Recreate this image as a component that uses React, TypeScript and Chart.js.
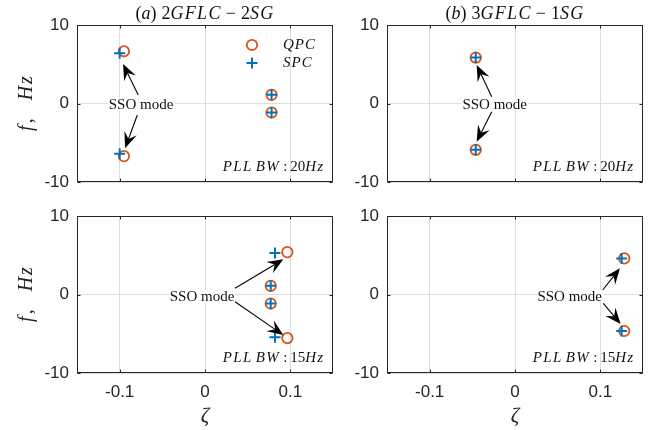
import React, { useEffect, useRef } from "react";
import { Chart, registerables } from "chart.js";

Chart.register(...registerables);

// ---------- data ----------
const X_TICKS = [-0.1, 0, 0.1];
const X_TICK_LABELS = ["-0.1", "0", "0.1"];
const Y_TICKS = [-10, 0, 10];
const Y_TICK_LABELS = ["-10", "0", "10"];
const X_MIN = -0.15;
const X_MAX = 0.15;
const Y_MIN = -10;
const Y_MAX = 10;

const SERIES_NAMES = ["QPC", "SPC"];

// (a) 2GFLC-2SG, PLL BW 20 Hz
const A_QPC_X = [-0.095, -0.095, 0.078, 0.078];
const A_QPC_Y = [6.65, -6.7, 1.1, -1.15];
const A_SPC_X = [-0.1, -0.1, 0.078, 0.078];
const A_SPC_Y = [6.4, -6.4, 1.1, -1.15];

// (b) 3GFLC-1SG, PLL BW 20 Hz
const B_QPC_X = [-0.046, -0.046];
const B_QPC_Y = [5.85, -5.9];
const B_SPC_X = [-0.046, -0.046];
const B_SPC_Y = [5.85, -5.9];

// (a) bottom, PLL BW 15 Hz
const C_QPC_X = [0.0965, 0.0965, 0.077, 0.077];
const C_QPC_Y = [5.4, -5.55, 1.1, -1.15];
const C_SPC_X = [0.082, 0.082, 0.077, 0.077];
const C_SPC_Y = [5.3, -5.45, 1.1, -1.15];

// (b) bottom, PLL BW 15 Hz
const D_QPC_X = [0.128, 0.128];
const D_QPC_Y = [4.6, -4.65];
const D_SPC_X = [0.125, 0.125];
const D_SPC_Y = [4.6, -4.65];

const PLL_BW = ["20", "20", "15", "15"];
const SSO_LABEL = "SSO mode";

// annotation anchors (data coordinates): text centre, arrows [tailX, tailY, tipX, tipY]
const A_SSO_TEXT = [-0.075, -0.1];
const A_SSO_ARROWS = [
  [-0.0782, 1.08, -0.0961, 5.03],
  [-0.0793, -1.46, -0.0937, -5.71],
];
const B_SSO_TEXT = [-0.0238, -0.1];
const B_SSO_ARROWS = [
  [-0.0273, 0.87, -0.0449, 4.9],
  [-0.0273, -1.04, -0.0449, -4.87],
];
const C_SSO_TEXT = [-0.0035, -0.2];
const C_SSO_ARROWS = [
  [0.0352, 0.79, 0.0918, 4.48],
  [0.0352, -0.92, 0.0918, -5.16],
];
const D_SSO_TEXT = [0.0641, -0.2];
const D_SSO_ARROWS = [
  [0.1028, 0.57, 0.123, 3.34],
  [0.1035, -1.12, 0.1238, -3.76],
];

// ---------- styles ----------
const W = 664;
const H = 430;
const ORANGE = "#D95319";
const BLUE = "#0072BD";
const AXIS = "#262626";
const GRID = "#dedede";
const SERIF = '"Liberation Serif", "Times New Roman", serif';
const SANS = '"Liberation Sans", Arial, sans-serif';
const YW = 40;
const XH = 30;

type Seg = { t?: string; it?: boolean; sp?: number; gap?: number };

const TITLE_A: Seg[] = [
  { t: "(" }, { t: "a", it: true }, { t: ")" }, { gap: 5 },
  { t: "2" }, { t: "GFLC", it: true, sp: 1.3 }, { gap: 4 }, { t: "−" }, { gap: 5 },
  { t: "2" }, { t: "SG", it: true, sp: 1.3 },
];
const TITLE_B: Seg[] = [
  { t: "(" }, { t: "b", it: true }, { t: ")" }, { gap: 5 },
  { t: "3" }, { t: "GFLC", it: true, sp: 1.3 }, { gap: 4 }, { t: "−" }, { gap: 5 },
  { t: "1" }, { t: "SG", it: true, sp: 1.3 },
];

function pllSegs(bw: string): Seg[] {
  return [
    { t: "PLL", it: true, sp: 1.4 }, { gap: 3 },
    { t: "BW", it: true, sp: 1.4 }, { gap: 3 },
    { t: ":" }, { gap: 3 },
    { t: bw }, { t: "Hz", it: true, sp: 1 },
  ];
}

const YLABEL: Seg[] = [
  { t: "f", it: true, sp: 2 }, { t: "," }, { gap: 18 }, { t: "H", it: true, sp: 2 }, { t: "z", it: true },
];

function fontOf(size: number, it?: boolean) {
  return `${it ? "italic " : ""}${size}px ${SERIF}`;
}

function segsWidth(ctx: CanvasRenderingContext2D, segs: Seg[], size: number) {
  let w = 0;
  for (const s of segs) {
    if (s.gap) {
      w += s.gap;
      continue;
    }
    ctx.font = fontOf(size, s.it);
    for (const ch of s.t || "") w += ctx.measureText(ch).width + (s.sp || 0);
  }
  return w;
}

function drawSegs(
  ctx: CanvasRenderingContext2D,
  segs: Seg[],
  x: number,
  y: number,
  size: number,
  align: "left" | "center" | "right",
  color: string
) {
  const w = segsWidth(ctx, segs, size);
  let cx = align === "center" ? x - w / 2 : align === "right" ? x - w : x;
  ctx.fillStyle = color;
  ctx.textBaseline = "alphabetic";
  ctx.textAlign = "left";
  for (const s of segs) {
    if (s.gap) {
      cx += s.gap;
      continue;
    }
    ctx.font = fontOf(size, s.it);
    for (const ch of s.t || "") {
      ctx.fillText(ch, cx, y);
      cx += ctx.measureText(ch).width + (s.sp || 0);
    }
  }
}

function drawArrow(ctx: CanvasRenderingContext2D, x0: number, y0: number, x1: number, y1: number) {
  const ang = Math.atan2(y1 - y0, x1 - x0);
  const L = 16;
  const HW = 6.5;
  const N = 10;
  const c = Math.cos(ang);
  const s = Math.sin(ang);
  const bx = x1 - L * c;
  const by = y1 - L * s;
  const nx = x1 - N * c;
  const ny = y1 - N * s;
  ctx.strokeStyle = "#000";
  ctx.fillStyle = "#000";
  ctx.lineWidth = 1.1;
  ctx.beginPath();
  ctx.moveTo(x0, y0);
  ctx.lineTo(nx, ny);
  ctx.stroke();
  ctx.beginPath();
  ctx.moveTo(x1, y1);
  ctx.lineTo(bx - HW * s, by + HW * c);
  ctx.lineTo(nx, ny);
  ctx.lineTo(bx + HW * s, by - HW * c);
  ctx.closePath();
  ctx.fill();
}

type Panel = {
  rect: { l: number; t: number; r: number; b: number };
  title: Seg[];
  qx: number[];
  qy: number[];
  sx: number[];
  sy: number[];
  pll: string;
  showX: boolean;
  showYLabel: boolean;
  legend: boolean;
  ssoText: number[];
  ssoArrows: number[][];
};

const PANELS: Panel[] = [
  { rect: { l: 77, t: 25, r: 333, b: 182 }, title: TITLE_A, qx: A_QPC_X, qy: A_QPC_Y, sx: A_SPC_X, sy: A_SPC_Y, pll: PLL_BW[0], showX: false, showYLabel: true, legend: true, ssoText: A_SSO_TEXT, ssoArrows: A_SSO_ARROWS },
  { rect: { l: 387, t: 25, r: 643, b: 182 }, title: TITLE_B, qx: B_QPC_X, qy: B_QPC_Y, sx: B_SPC_X, sy: B_SPC_Y, pll: PLL_BW[1], showX: false, showYLabel: false, legend: false, ssoText: B_SSO_TEXT, ssoArrows: B_SSO_ARROWS },
  { rect: { l: 77, t: 216, r: 333, b: 373 }, title: [], qx: C_QPC_X, qy: C_QPC_Y, sx: C_SPC_X, sy: C_SPC_Y, pll: PLL_BW[2], showX: true, showYLabel: true, legend: false, ssoText: C_SSO_TEXT, ssoArrows: C_SSO_ARROWS },
  { rect: { l: 387, t: 216, r: 643, b: 373 }, title: [], qx: D_QPC_X, qy: D_QPC_Y, sx: D_SPC_X, sy: D_SPC_Y, pll: PLL_BW[3], showX: true, showYLabel: false, legend: false, ssoText: D_SSO_TEXT, ssoArrows: D_SSO_ARROWS },
];

const toPts = (xs: number[], ys: number[]) => xs.map((x, i) => ({ x, y: ys[i] }));

function makeChart(canvas: HTMLCanvasElement, p: Panel) {
  const xh = p.showX ? XH : 0;
  const overlay = {
    id: "overlay",
    afterDraw(chart: any) {
      const ctx: CanvasRenderingContext2D = chart.ctx;
      const a = chart.chartArea;
      const xs = chart.scales.x;
      const ys = chart.scales.y;
      ctx.save();
      // frame
      const L = Math.round(a.left) + 0.5;
      const T = Math.round(a.top) + 0.5;
      const R = Math.round(a.right) - 0.5;
      const B = Math.round(a.bottom) - 0.5;
      ctx.strokeStyle = AXIS;
      ctx.lineWidth = 1;
      ctx.strokeRect(L, T, R - L, B - T);
      // inside tick marks
      ctx.beginPath();
      for (const v of X_TICKS) {
        const px = Math.round(xs.getPixelForValue(v)) + 0.5;
        ctx.moveTo(px, B);
        ctx.lineTo(px, B - 3);
        ctx.moveTo(px, T);
        ctx.lineTo(px, T + 3);
      }
      for (const v of Y_TICKS) {
        const py = Math.round(ys.getPixelForValue(v)) + 0.5;
        ctx.moveTo(L, py);
        ctx.lineTo(L + 3, py);
        ctx.moveTo(R, py);
        ctx.lineTo(R - 3, py);
      }
      ctx.stroke();

      // title
      const cxArea = (a.left + a.right) / 2;
      if (p.title.length) drawSegs(ctx, p.title, cxArea, 19, 18, "center", "#111");

      // y label
      if (p.showYLabel) {
        ctx.save();
        ctx.translate(32, (a.top + a.bottom) / 2);
        ctx.rotate(-Math.PI / 2);
        drawSegs(ctx, YLABEL, 0, 0, 20, "center", AXIS);
        ctx.restore();
      }
      // x label
      if (p.showX) {
        ctx.font = `italic 21px ${SERIF}`;
        ctx.fillStyle = AXIS;
        ctx.textAlign = "center";
        ctx.textBaseline = "alphabetic";
        ctx.fillText("ζ", cxArea, 422);
      }

      // PLL BW text
      drawSegs(ctx, pllSegs(p.pll), a.right - 9, a.bottom - 11.5, 15, "right", "#111");

      // legend
      if (p.legend) {
        const lx = a.right - 81;
        const ly1 = a.top + 20;
        const ly2 = a.top + 38;
        ctx.strokeStyle = ORANGE;
        ctx.lineWidth = 1.8;
        ctx.beginPath();
        ctx.arc(lx, ly1, 5.2, 0, Math.PI * 2);
        ctx.stroke();
        ctx.strokeStyle = BLUE;
        ctx.lineWidth = 2;
        ctx.beginPath();
        ctx.moveTo(lx - 5.5, ly2);
        ctx.lineTo(lx + 5.5, ly2);
        ctx.moveTo(lx, ly2 - 5.5);
        ctx.lineTo(lx, ly2 + 5.5);
        ctx.stroke();
        drawSegs(ctx, [{ t: SERIES_NAMES[0], it: true, sp: 1 }], a.right - 50, ly1 + 4, 15, "left", "#111");
        drawSegs(ctx, [{ t: SERIES_NAMES[1], it: true, sp: 1 }], a.right - 50, ly2 + 4, 15, "left", "#111");
      }

      // SSO annotation
      const tx = xs.getPixelForValue(p.ssoText[0]);
      const ty = ys.getPixelForValue(p.ssoText[1]);
      ctx.font = `15px ${SERIF}`;
      const tw = ctx.measureText(SSO_LABEL).width;
      ctx.fillStyle = "#fff";
      ctx.fillRect(tx - tw / 2 - 1, ty - 6, tw + 2, 12);
      for (const ar of p.ssoArrows) {
        drawArrow(
          ctx,
          xs.getPixelForValue(ar[0]),
          ys.getPixelForValue(ar[1]),
          xs.getPixelForValue(ar[2]),
          ys.getPixelForValue(ar[3])
        );
      }
      ctx.font = `15px ${SERIF}`;
      ctx.fillStyle = "#111";
      ctx.textAlign = "center";
      ctx.textBaseline = "middle";
      ctx.fillText(SSO_LABEL, tx, ty + 1);
      ctx.restore();
    },
  };

  return new Chart(canvas, {
    type: "scatter",
    data: {
      datasets: [
        {
          label: SERIES_NAMES[1],
          data: toPts(p.sx, p.sy),
          pointStyle: "cross",
          pointRadius: 5.5,
          borderColor: BLUE,
          backgroundColor: BLUE,
          borderWidth: 2,
          order: 0,
        },
        {
          label: SERIES_NAMES[0],
          data: toPts(p.qx, p.qy),
          pointStyle: "circle",
          pointRadius: 5.2,
          borderColor: ORANGE,
          backgroundColor: "rgba(0,0,0,0)",
          borderWidth: 1.8,
          order: 1,
        },
      ],
    } as any,
    options: {
      responsive: false,
      animation: false,
      events: [],
      layout: {
        padding: {
          left: p.rect.l - YW,
          right: W - p.rect.r,
          top: p.rect.t,
          bottom: H - p.rect.b - xh,
        },
      },
      plugins: {
        legend: { display: false },
        tooltip: { enabled: false },
        title: { display: false },
      },
      scales: {
        x: {
          type: "linear",
          min: X_MIN,
          max: X_MAX,
          afterBuildTicks: (s: any) => {
            s.ticks = X_TICKS.map((v) => ({ value: v }));
          },
          afterFit: (s: any) => {
            s.height = xh;
          },
          ticks: {
            display: p.showX,
            autoSkip: false,
            maxRotation: 0,
            padding: 9,
            color: AXIS,
            font: { family: SANS, size: 17 },
            callback: (v: any) => X_TICK_LABELS[X_TICKS.indexOf(Number(v))] ?? "",
          },
          grid: { color: GRID, lineWidth: 1, drawTicks: false },
          border: { display: false },
        },
        y: {
          type: "linear",
          min: Y_MIN,
          max: Y_MAX,
          afterBuildTicks: (s: any) => {
            s.ticks = Y_TICKS.map((v) => ({ value: v }));
          },
          afterFit: (s: any) => {
            s.width = YW;
          },
          ticks: {
            autoSkip: false,
            padding: 8,
            color: AXIS,
            font: { family: SANS, size: 17 },
            callback: (v: any) => Y_TICK_LABELS[Y_TICKS.indexOf(Number(v))] ?? "",
          },
          grid: { color: GRID, lineWidth: 1, drawTicks: false },
          border: { display: false },
        },
      },
    } as any,
    plugins: [overlay],
  });
}

export default function App() {
  const refs = useRef<(HTMLCanvasElement | null)[]>([]);
  useEffect(() => {
    const charts = PANELS.map((p, i) => makeChart(refs.current[i] as HTMLCanvasElement, p));
    return () => charts.forEach((c) => c.destroy());
  }, []);
  return (
    <div style={{ position: "fixed", left: 0, top: 0, width: W, height: H, background: "#fff" }}>
      {PANELS.map((_, i) => (
        <canvas
          key={i}
          ref={(el) => {
            refs.current[i] = el;
          }}
          width={W}
          height={H}
          style={{ position: "absolute", left: 0, top: 0, width: W, height: H }}
        />
      ))}
    </div>
  );
}
